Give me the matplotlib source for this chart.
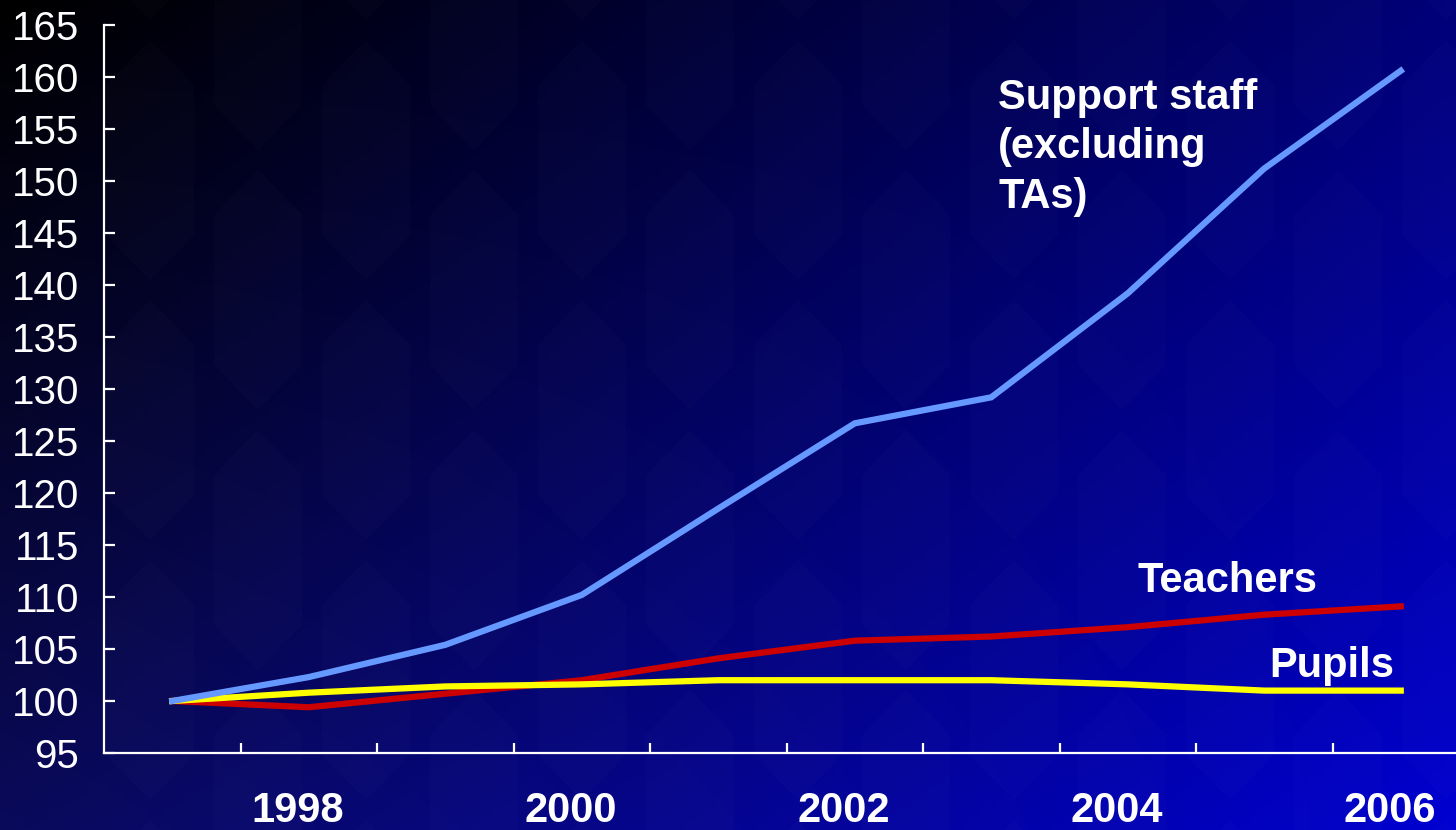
import numpy as np
import matplotlib.pyplot as plt
from matplotlib.patches import Polygon

plt.rcParams['font.family'] = ['Liberation Sans', 'DejaVu Sans']

years = list(range(1997, 2007))
support_staff = [100, 102.3, 105.4, 110.2, 118.5, 126.7, 129.2, 139.2, 151.2, 160.6]
teachers = [100, 99.4, 100.7, 102.0, 104.1, 105.8, 106.2, 107.1, 108.3, 109.1]
pupils = [100, 100.8, 101.4, 101.6, 102.0, 102.0, 102.0, 101.6, 101.0, 101.0]
year_labels = ['1998', '2000', '2002', '2004', '2006']

W, H = 1456, 830
fig = plt.figure(figsize=(W / 100, H / 100), dpi=100)

# background: dark-to-blue diagonal gradient with a faint hexagon texture
bg = fig.add_axes([0, 0, 1, 1], zorder=-1)
gx, gy = np.meshgrid(np.linspace(0, 1, 400), np.linspace(0, 1, 240))
f = np.clip(0.62 * gx + 0.29 * gy + 0.09 * gx * gy, 0, 1)
grad = np.zeros(gx.shape + (3,))
grad[..., 0] = 0.04 * gy * (1 - gx)
grad[..., 1] = 0.04 * gy * (1 - gx)
grad[..., 2] = 0.82 * f ** 1.15 + 0.16 * gy * (1 - gx)
bg.imshow(grad, extent=[0, W, H, 0], aspect='auto', origin='upper')
hw, hh, cut = 44, 120, 45
for i, cx in enumerate(np.arange(150, W + 100, 108)):
    off = 0 if i % 2 == 0 else 130
    for cy in np.arange(-100 + off, H + 200, 260):
        pts = [(cx, cy - hh), (cx + hw, cy - hh + cut), (cx + hw, cy + hh - cut),
               (cx, cy + hh), (cx - hw, cy + hh - cut), (cx - hw, cy - hh + cut)]
        bg.add_patch(Polygon(pts, closed=True, facecolor='white', alpha=0.016,
                             edgecolor='none'))
bg.set_xlim(0, W)
bg.set_ylim(H, 0)
bg.axis('off')

ax = fig.add_axes([104 / W, 77 / H, 1365 / W, 728 / H])
ax.patch.set_alpha(0)

x = np.arange(1, len(years) + 1)
ax.plot(x, teachers, color='#CC0000', lw=4.5, solid_joinstyle='miter')
ax.plot(x, pupils, color='#FFFF00', lw=4.5, solid_joinstyle='miter')
ax.plot(x, support_staff, color='#6699FF', lw=4.5, solid_joinstyle='miter')

ax.set_xlim(0.5, len(years) + 0.5)
ax.set_ylim(95, 165)

for s in ['top', 'right']:
    ax.spines[s].set_visible(False)
for s in ['left', 'bottom']:
    ax.spines[s].set_color('white')
    ax.spines[s].set_linewidth(1.6)

ax.set_yticks(np.arange(95, 166, 5))
ax.tick_params(axis='y', direction='in', length=8, width=1.6, color='white',
               labelcolor='white', labelsize=29, pad=18)

# category boundaries get the tick marks, every other year gets a label
ax.set_xticks(x[:-1] + 0.5)
ax.tick_params(axis='x', which='major', direction='in', length=7, width=1.6,
               color='white', labelbottom=False)
label_pos = [x[years.index(int(y))] - 0.08 for y in year_labels]
ax.set_xticks(label_pos, minor=True)
ax.set_xticklabels(year_labels, minor=True, fontweight='bold')
ax.tick_params(axis='x', which='minor', length=0, labelcolor='white',
               labelsize=30, pad=27)

txt = dict(color='white', fontsize=30, fontweight='bold')
ax.text(7.05, 159.9, 'Support staff\n(excluding\nTAs)', va='top', ha='left',
        linespacing=1.3, **txt)
ax.text(8.07, 110.5, 'Teachers', va='baseline', ha='left', **txt)
ax.text(9.04, 102.3, 'Pupils', va='baseline', ha='left', **txt)

fig.savefig('out.png', dpi=100)
